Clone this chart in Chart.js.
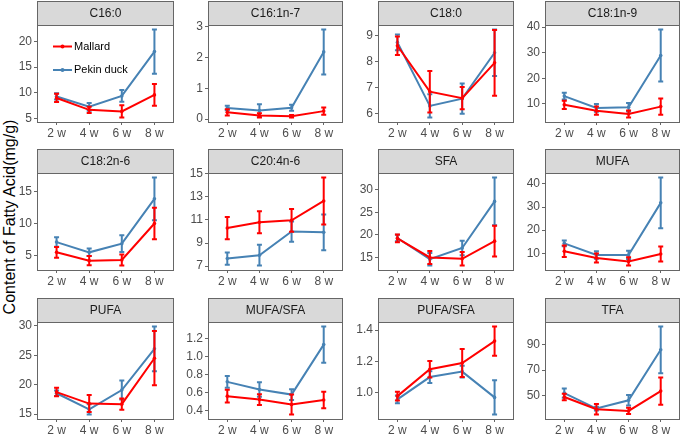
<!DOCTYPE html>
<html lang="en">
<head>
<meta charset="UTF-8">
<title>Fatty acid content</title>
<script src="https://cdn.jsdelivr.net/npm/chart.js"></script>
<style>
  body { margin: 0; background: #fff; }
  #wrap { position: relative; width: 685px; height: 438px; background: #fff; overflow: hidden; }
  #wrap canvas { position: absolute; }
  #ytitle {
    position: absolute; left: 10px; top: 217px; white-space: nowrap;
    transform: translate(-50%, -50%) rotate(-90deg);
    font: 16px "Liberation Sans", Arial, sans-serif; color: #000;
  }
</style>
</head>
<body>
<div id="wrap">
  <div id="ytitle">Content of Fatty Acid(mg/g)</div>
</div>

<script>
// ---- data ----
const weeks = ['2 w', '4 w', '6 w', '8 w'];
const seriesNames = ['Mallard', 'Pekin duck'];
const seriesColors = ['#FF0000', '#4682B4'];

const panelNames = ['C16:0', 'C16:1n-7', 'C18:0', 'C18:1n-9',
                    'C18:2n-6', 'C20:4n-6', 'SFA', 'MUFA',
                    'PUFA', 'MUFA/SFA', 'PUFA/SFA', 'TFA'];

const mallardMean = [
    [9.0, 6.7, 6.4, 9.6],
    [0.22, 0.12, 0.09, 0.26],
    [8.62, 6.85, 6.6, 7.96],
    [9.6, 7.3, 6.0, 8.9],
    [5.5, 4.2, 4.3, 10.0],
    [10.3, 10.8, 10.97, 12.65],
    [19.2, 15.0, 14.7, 18.6],
    [10.9, 8.0, 6.5, 9.7],
    [18.75, 16.8, 16.7, 24.5],
    [0.563, 0.525, 0.47, 0.52],
    [0.978, 1.15, 1.19, 1.33],
    [48.7, 39.0, 37.7, 53.4]
];
const mallardErr = [
    [0.8, 0.6, 1.2, 2.1],
    [0.1, 0.07, 0.04, 0.12],
    [0.36, 0.8, 0.43, 1.27],
    [1.6, 1.6, 1.4, 3.2],
    [0.85, 0.73, 0.87, 2.45],
    [0.96, 0.95, 0.98, 2.04],
    [0.86, 1.45, 1.5, 3.4],
    [2.45, 1.95, 1.8, 3.25],
    [0.72, 1.45, 0.95, 4.6],
    [0.07, 0.06, 0.11, 0.09],
    [0.028, 0.052, 0.09, 0.094],
    [2.6, 4.2, 2.5, 10.8]
];
const pekinMean = [
    [9.3, 7.3, 9.4, 18.0],
    [0.36, 0.28, 0.37, 2.18],
    [8.75, 6.3, 6.58, 8.35],
    [13.0, 8.4, 8.65, 28.9],
    [7.1, 5.5, 6.85, 13.85],
    [7.66, 7.95, 10.0, 9.93],
    [19.3, 14.6, 17.1, 27.4],
    [14.3, 9.3, 9.3, 31.8],
    [18.55, 15.8, 19.1, 26.1],
    [0.72, 0.635, 0.58, 1.13],
    [0.957, 1.1, 1.135, 0.97],
    [51.8, 39.6, 46.1, 86.1]
];
const pekinErr = [
    [0.6, 0.75, 1.15, 4.3],
    [0.07, 0.2, 0.1, 0.73],
    [0.3, 0.45, 0.58, 0.9],
    [1.3, 1.5, 1.7, 10.2],
    [0.74, 0.58, 1.3, 3.35],
    [0.53, 0.9, 0.88, 1.55],
    [0.7, 1.4, 1.6, 5.3],
    [1.2, 1.65, 1.8, 11.0],
    [0.45, 0.87, 1.6, 3.8],
    [0.065, 0.08, 0.06, 0.2],
    [0.025, 0.038, 0.038, 0.11],
    [3.6, 1.5, 4.2, 18.5]
];
const yTickLabels = [
    ['5', '10', '15', '20'],
    ['0', '1', '2', '3'],
    ['6', '7', '8', '9'],
    ['10', '20', '30', '40'],
    ['5', '10', '15'],
    ['7', '9', '11', '13', '15'],
    ['15', '20', '25', '30'],
    ['10', '20', '30', '40'],
    ['15', '20', '25', '30'],
    ['0.4', '0.6', '0.8', '1.0', '1.2'],
    ['1.0', '1.2', '1.4'],
    ['50', '70', '90']
];

// ---- layout ----
const colLeft = [37, 208, 378, 545];
const panelW = [140, 138, 139, 138];
const rowTop = [1, 149, 298];
const STRIP = 24, PANEL_H = 97, AXIS_W = 37, XAXIS_H = 20;
const FONT = '"Liberation Sans", Arial, sans-serif';
const AXIS_GREY = '#4D4D4D';
const BORDER = '#666666';

const facetPlugin = {
    id: 'facet',
    afterDatasetDraw(chart, args) {
        // error bars, drawn right after their own series
        const ds = chart.data.datasets[args.index];
        const xs = chart.scales.x, ys = chart.scales.y;
        const ctx = chart.ctx;
        ctx.save();
        ctx.strokeStyle = ds.borderColor;
        ctx.lineWidth = 2;
        ds.data.forEach((p, k) => {
            const e = ds.errs[k];
            const x = xs.getPixelForValue(p.x);
            const y1 = ys.getPixelForValue(p.y - e);
            const y2 = ys.getPixelForValue(p.y + e);
            ctx.beginPath();
            ctx.moveTo(x, y1); ctx.lineTo(x, y2);
            ctx.moveTo(x - 2.5, y1); ctx.lineTo(x + 2.5, y1);
            ctx.moveTo(x - 2.5, y2); ctx.lineTo(x + 2.5, y2);
            ctx.stroke();
        });
        ctx.restore();
    },
    afterDraw(chart) {
        const a = chart.chartArea, ctx = chart.ctx;
        const opts = chart.options.plugins.facet;
        ctx.save();
        // strip
        ctx.fillStyle = '#D9D9D9';
        ctx.fillRect(a.left, a.top - STRIP, a.right - a.left, STRIP);
        ctx.strokeStyle = BORDER;
        ctx.lineWidth = 1;
        ctx.strokeRect(a.left + 0.5, a.top - STRIP + 0.5, a.right - a.left - 1, STRIP);
        ctx.fillStyle = '#1A1A1A';
        ctx.font = '12px ' + FONT;
        ctx.textAlign = 'center';
        ctx.textBaseline = 'middle';
        ctx.fillText(opts.title, (a.left + a.right) / 2, a.top - STRIP / 2 + 0.5);
        // panel border
        ctx.strokeRect(a.left + 0.5, a.top + 0.5, a.right - a.left - 1, a.bottom - a.top);
        // legend inside the first panel
        if (opts.legend) {
            ctx.font = '11px ' + FONT;
            ctx.textAlign = 'left';
            seriesNames.forEach((name, s) => {
                const y = a.top + 21.5 + s * 23.5;
                ctx.strokeStyle = seriesColors[s];
                ctx.lineWidth = 2;
                ctx.beginPath();
                ctx.moveTo(a.left + 16, y); ctx.lineTo(a.left + 35, y);
                ctx.stroke();
                ctx.fillStyle = seriesColors[s];
                ctx.beginPath();
                ctx.arc(a.left + 25.5, y, 2, 0, Math.PI * 2);
                ctx.fill();
                ctx.fillStyle = '#000';
                ctx.fillText(name, a.left + 37, y);
            });
        }
        ctx.restore();
    }
};

const wrap = document.getElementById('wrap');

panelNames.forEach((title, i) => {
    const r = Math.floor(i / 4), c = i % 4;
    const canvas = document.createElement('canvas');
    canvas.width = AXIS_W + panelW[c] + 1;
    canvas.height = STRIP + PANEL_H + XAXIS_H;
    canvas.style.left = (colLeft[c] - AXIS_W) + 'px';
    canvas.style.top = rowTop[r] + 'px';
    wrap.appendChild(canvas);

    const means = [mallardMean[i], pekinMean[i]];
    const errs = [mallardErr[i], pekinErr[i]];

    // y range: data incl. error bars, padded 5% like ggplot
    let lo = Infinity, hi = -Infinity;
    means.forEach((m, s) => m.forEach((v, k) => {
        lo = Math.min(lo, v - errs[s][k]);
        hi = Math.max(hi, v + errs[s][k]);
    }));
    const pad = (hi - lo) * 0.05;

    const tickGrid = { display: true, drawOnChartArea: false, drawTicks: true, tickLength: 3, color: BORDER, lineWidth: 1 };

    new Chart(canvas.getContext('2d'), {
        type: 'line',
        data: {
            datasets: seriesNames.map((name, s) => ({
                label: name,
                data: weeks.map((w, k) => ({ x: k + 1, y: means[s][k] })),
                errs: errs[s],
                borderColor: seriesColors[s],
                backgroundColor: seriesColors[s],
                borderWidth: 2,
                pointRadius: 1.8,
                pointBorderWidth: 0,
                tension: 0,
                fill: false
            }))
        },
        options: {
            responsive: false,
            animation: false,
            layout: { padding: { top: STRIP, right: 1, left: 0, bottom: 0 } },
            plugins: {
                legend: { display: false },
                tooltip: { enabled: false },
                facet: { title, legend: i === 0 }
            },
            scales: {
                x: {
                    type: 'linear',
                    min: 0.4,
                    max: 4.6,
                    afterBuildTicks: s => { s.ticks = weeks.map((w, k) => ({ value: k + 1 })); },
                    afterFit: s => { s.height = XAXIS_H; },
                    ticks: {
                        callback: v => weeks[Math.round(v) - 1],
                        color: AXIS_GREY, font: { family: FONT, size: 12 },
                        padding: 1, maxRotation: 0, autoSkip: false
                    },
                    grid: tickGrid,
                    border: { display: false }
                },
                y: {
                    min: lo - pad,
                    max: hi + pad,
                    afterBuildTicks: s => { s.ticks = yTickLabels[i].map(t => ({ value: parseFloat(t) })); },
                    afterFit: s => { s.width = AXIS_W; },
                    ticks: {
                        callback: (v, idx) => yTickLabels[i][idx],
                        color: AXIS_GREY, font: { family: FONT, size: 12 },
                        padding: 2, autoSkip: false
                    },
                    grid: tickGrid,
                    border: { display: false }
                }
            }
        },
        plugins: [facetPlugin]
    });
});
</script>
</body>
</html>
